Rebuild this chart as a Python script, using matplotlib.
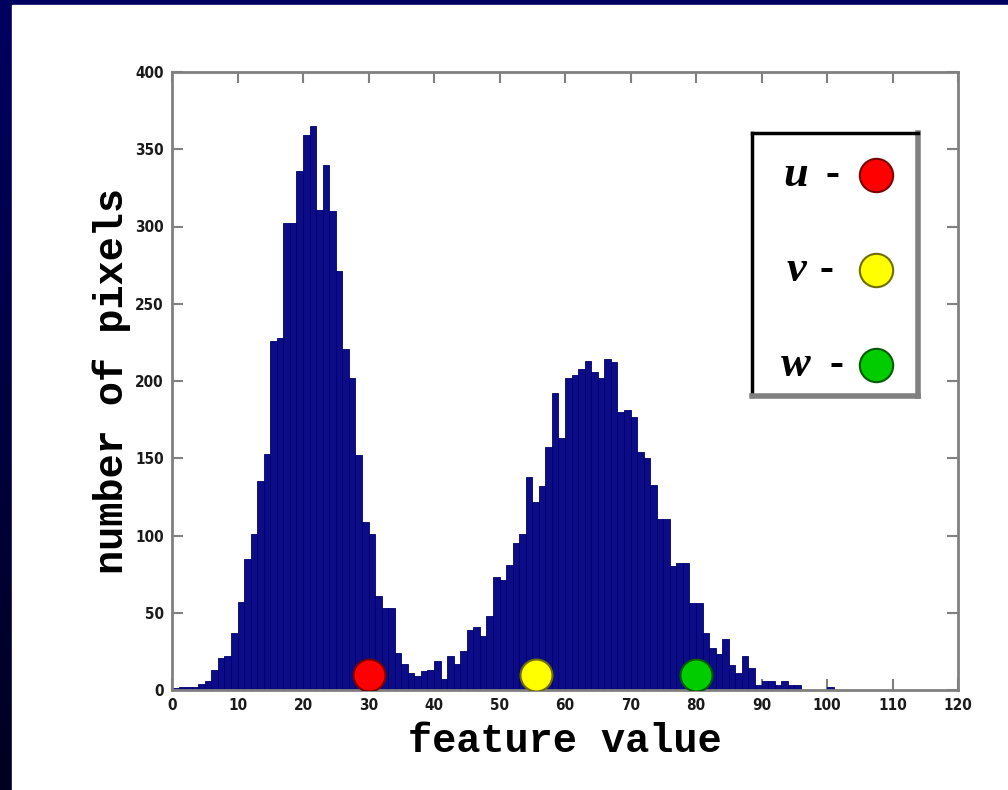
import numpy as np
import matplotlib.pyplot as plt
from matplotlib.patches import Rectangle

# histogram counts, one bin per unit of feature value (0..100)
counts = [
    1, 2, 2, 2, 4, 6, 13, 21, 22, 37,
    57, 85, 101, 135, 153, 226, 228, 302, 302, 336,
    359, 365, 311, 340, 310, 271, 221, 202, 152, 109,
    101, 61, 53, 53, 24, 17, 11, 9, 12, 13,
    19, 7, 22, 17, 25, 39, 41, 35, 48, 73,
    71, 81, 95, 101, 138, 122, 132, 157, 192, 163,
    202, 204, 208, 213, 206, 202, 214, 212, 180, 181,
    177, 154, 150, 133, 111, 111, 80, 82, 82, 56,
    56, 37, 27, 23, 33, 16, 11, 22, 14, 3,
    6, 6, 3, 6, 3, 3, 0, 0, 0, 0,
    2,
]
bin_left = np.arange(len(counts))

centre_names = ["u", "v", "w"]
centre_x = [30, 55.5, 80]
centre_y = [10, 10, 10]
centre_colors = ["#ff0000", "#ffff00", "#00cc00"]
centre_edges = ["#7a0000", "#6e6e00", "#005a00"]

xticks = np.arange(0, 121, 10)
yticks = np.arange(0, 401, 50)

W, H = 1008, 790
fig = plt.figure(figsize=(W / 100, H / 100), dpi=100)

# slide-style background: dark blue gradient with a white panel
bg = fig.add_axes([0, 0, 1, 1], zorder=-10)
grad = np.linspace(0, 1, 256).reshape(-1, 1)
bg.imshow(np.dstack([grad * 0, grad * 0, 0.13 + grad * 0.25]), aspect="auto",
          extent=[0, 1, 0, 1], origin="lower")
bg.add_patch(Rectangle((12 / W, 0), 1, 1 - 5 / H, color="white"))
bg.set_xlim(0, 1)
bg.set_ylim(0, 1)
bg.axis("off")

ax = fig.add_axes([172 / W, 1 - 690 / H, (958 - 172) / W, (690 - 72) / H])
ax.bar(bin_left, counts, width=1, align="edge", color="#0c0c86",
       edgecolor="#000072", linewidth=0.6, zorder=2)

for x, y, c, e in zip(centre_x, centre_y, centre_colors, centre_edges):
    ax.plot(x, y, "o", markersize=23, color=c, markeredgecolor=e,
            markeredgewidth=1.5, zorder=5)

ax.set_xlim(0, 120)
ax.set_ylim(0, 400)
ax.set_xticks(xticks)
ax.set_yticks(yticks)

tick_font = {"family": "DejaVu Sans", "stretch": "condensed",
             "weight": "bold", "size": 11}
ax.set_xticklabels([str(t) for t in xticks], fontdict=tick_font)
ax.set_yticklabels([str(t) for t in yticks], fontdict=tick_font)
ax.tick_params(direction="in", length=8, width=1.5, color="#808080",
               top=True, right=True, pad=6, labelcolor="#1a1a1a")
for s in ax.spines.values():
    s.set_color("#808080")
    s.set_linewidth(2)

label_font = {"family": ["Liberation Mono", "DejaVu Sans Mono"],
              "weight": "bold", "size": 29}
ax.set_xlabel("feature value", fontdict=label_font)
ax.set_ylabel("number of pixels", fontdict=label_font)
ax.xaxis.set_label_coords(0.5, -0.052)
ax.yaxis.set_label_coords(-0.052, 0.5)

# key box on the right
kx0, ky0, kx1, ky1 = 752, 133, 918, 396
key = fig.add_axes([kx0 / W, 1 - ky1 / H, (kx1 - kx0) / W, (ky1 - ky0) / H])
key.set_xlim(kx0, kx1)
key.set_ylim(ky1, ky0)
key.set_xticks([])
key.set_yticks([])
for side in ["left", "top"]:
    key.spines[side].set_color("black")
    key.spines[side].set_linewidth(2.5)
for side in ["right", "bottom"]:
    key.spines[side].set_color("#808080")
    key.spines[side].set_linewidth(4)

key_rows = [175, 270, 365]
dash_x = [832, 826, 836]
for name, row, dx, c, e in zip(centre_names, key_rows, dash_x,
                               centre_colors, centre_edges):
    key.text(796, row, name, ha="center", va="center", fontsize=32,
             family=["Liberation Serif", "DejaVu Serif"], weight="bold",
             style="italic")
    key.text(dx, row, "-", ha="center", va="center", fontsize=30,
             family=["Liberation Serif", "DejaVu Serif"], weight="bold")
    key.plot(876, row, "o", markersize=24, color=c, markeredgecolor=e,
             markeredgewidth=1.5)

fig.savefig("out.png", dpi=100)
